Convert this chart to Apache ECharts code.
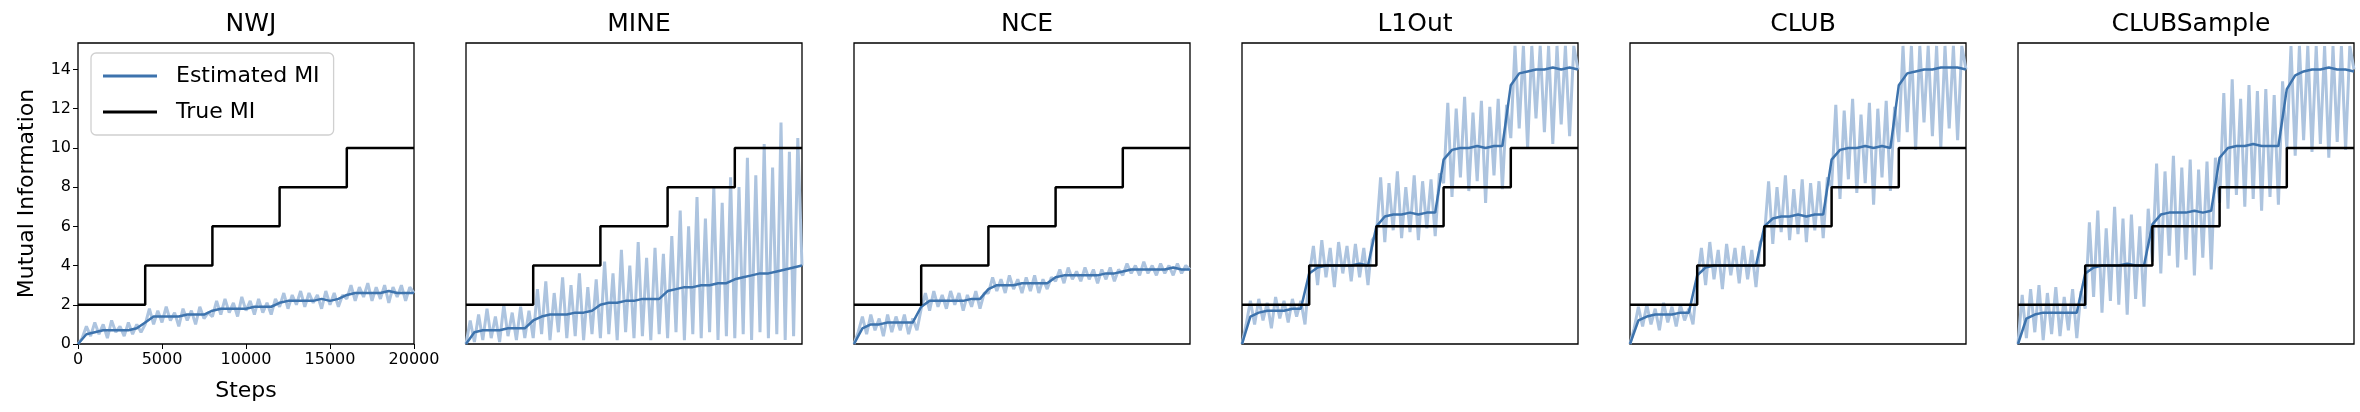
<!DOCTYPE html>
<html><head><meta charset="utf-8">
<script src="https://cdn.jsdelivr.net/npm/echarts@6/dist/echarts.min.js"></script>
<style>html,body{margin:0;padding:0;background:#fff}#c{width:2360px;height:412px}</style>
</head><body><div id="c"></div>
<script>
const titles = ['NWJ','MINE','NCE','L1Out','CLUB','CLUBSample'];
const trueX = [0,4000,8000,12000,16000,20000];
const trueY = [2,4,6,8,10,10];
const rawStep = 250, smoothStep = 500;
const rawNWJ = [0,0.3,0.9,0.4,1.1,0.5,1.0,0.3,1.2,0.6,0.9,0.4,1.1,0.5,1.0,0.6,
 1.0,1.8,1.0,1.7,1.1,1.9,1.2,1.6,0.9,1.8,1.2,1.7,1.0,1.9,1.3,1.6,
 1.4,2.2,1.5,2.3,1.6,2.1,1.4,2.4,1.7,2.2,1.5,2.3,1.6,2.1,1.5,2.3,
 1.9,2.6,1.8,2.5,2.0,2.7,1.9,2.6,2.1,2.5,1.8,2.7,2.0,2.6,1.9,2.5,
 2.3,3.0,2.2,2.9,2.4,3.1,2.2,2.9,2.3,3.0,2.1,2.9,2.4,3.0,2.2,2.9,2.6];
const smNWJ = [0,0.5,0.6,0.7,0.7,0.7,0.7,0.8, 1.1,1.4,1.4,1.4,1.4,1.5,1.5,1.5, 1.7,1.8,1.8,1.8,1.8,1.9,1.9,1.9, 2.1,2.2,2.2,2.2,2.2,2.3,2.2,2.3, 2.5,2.6,2.6,2.6,2.6,2.7,2.6,2.6,2.6];
const rawMINE = [0,1.2,0.1,1.5,0.2,1.8,0.3,1.4,0.1,2.0,0.4,1.6,0.2,1.9,0.3,1.7,
 0.3,2.8,0.5,3.2,0.2,2.6,0.6,3.4,0.3,3.0,0.4,3.6,0.2,2.9,0.5,3.3,
 0.3,4.2,0.5,3.6,0.2,4.8,0.6,4.0,0.3,5.2,0.4,4.4,0.2,4.9,0.5,4.6,
 0.3,5.5,0.6,6.8,0.2,6.0,0.5,7.5,0.3,6.4,0.6,8.0,0.2,7.2,0.4,8.5,
 0.3,8.0,0.5,9.5,0.2,8.6,0.6,10.2,0.3,9.0,0.5,11.3,0.2,9.8,0.4,10.5,4.0];
const smMINE = [0,0.6,0.7,0.7,0.7,0.8,0.8,0.8, 1.2,1.4,1.5,1.5,1.5,1.6,1.6,1.7, 2.0,2.1,2.1,2.2,2.2,2.3,2.3,2.3, 2.7,2.8,2.9,2.9,3.0,3.0,3.1,3.1, 3.3,3.4,3.5,3.6,3.6,3.7,3.8,3.9,4.0];
const rawNCE = [0,0.6,1.4,0.5,1.5,0.7,1.3,0.4,1.5,0.6,1.4,0.7,1.5,0.5,1.3,0.7,
 1.8,2.6,1.7,2.7,1.9,2.5,1.8,2.7,2.0,2.6,1.7,2.5,1.9,2.7,1.8,2.6,
 2.6,3.4,2.7,3.3,2.6,3.5,2.8,3.3,2.6,3.4,2.7,3.5,2.6,3.3,2.8,3.4,
 3.2,3.8,3.1,3.9,3.3,3.7,3.2,3.9,3.3,3.8,3.1,3.8,3.3,3.9,3.2,3.8,
 3.5,4.1,3.6,4.0,3.5,4.2,3.6,4.0,3.5,4.1,3.6,4.0,3.5,4.1,3.6,4.0,3.8];
const smNCE = [0,0.8,1.0,1.0,1.1,1.1,1.1,1.1, 1.9,2.2,2.2,2.2,2.2,2.2,2.3,2.3, 2.8,3.0,3.0,3.0,3.1,3.1,3.1,3.1, 3.4,3.5,3.5,3.5,3.5,3.5,3.6,3.6, 3.7,3.8,3.8,3.8,3.8,3.8,3.9,3.8,3.8];
const rawL1Out = [0,1.0,2.2,1.0,2.3,1.2,2.1,0.8,2.4,1.3,2.2,1.1,2.3,1.4,2.2,1.0,
 3.5,5.0,3.0,5.3,3.4,4.9,2.9,5.2,3.6,5.0,3.2,5.1,3.4,4.9,3.0,5.3,
 5.6,8.5,5.2,8.2,5.8,8.8,5.4,8.0,5.7,8.6,5.3,8.3,5.9,8.4,5.5,8.7,
 8.2,12.3,7.5,12.0,8.5,12.6,7.8,11.8,8.3,12.4,7.2,12.1,8.6,12.5,7.9,12.2,
 10.5,15.2,11.0,15.2,10.0,15.2,11.5,15.2,10.8,15.2,10.2,15.2,11.2,15.2,10.6,15.2,14];
const smL1Out = [0,1.4,1.6,1.7,1.7,1.7,1.8,1.8, 3.6,3.9,4.0,4.0,4.0,4.0,4.1,4.0, 6.0,6.5,6.6,6.6,6.7,6.6,6.7,6.7, 9.4,9.9,10.0,10.0,10.1,10.0,10.1,10.1, 13.2,13.8,13.9,14.0,14.0,14.1,14.0,14.1,14.0];
const rawCLUB = [0,0.8,1.9,0.9,2.0,1.0,1.8,0.7,2.1,1.1,1.9,0.9,2.0,1.2,1.8,1.0,
 3.2,4.9,3.0,5.2,3.3,4.8,2.8,5.1,3.5,4.9,3.1,5.0,3.3,4.8,2.9,5.2,
 5.5,8.3,5.1,8.0,5.7,8.6,5.3,7.9,5.6,8.4,5.2,8.2,5.8,8.3,5.4,8.5,
 8.0,12.2,7.4,11.9,8.4,12.5,7.7,11.7,8.2,12.3,7.1,12.0,8.5,12.4,7.8,12.1,
 10.3,15.2,10.8,15.2,9.9,15.2,11.3,15.2,10.6,15.2,10.0,15.2,11.0,15.2,10.4,15.2,14];
const smCLUB = [0,1.2,1.4,1.5,1.5,1.5,1.6,1.6, 3.5,3.9,4.0,4.0,4.0,4.0,4.0,4.0, 6.0,6.4,6.5,6.5,6.6,6.5,6.6,6.6, 9.4,9.9,10.0,10.0,10.1,10.0,10.1,10.0, 13.2,13.8,13.9,14.0,14.0,14.1,14.1,14.1,14.0];
const rawCLUBSample = [0,2.5,0.3,2.8,0.6,3.0,0.2,2.6,0.5,2.9,0.4,2.4,0.7,2.8,0.3,2.7,
 1.8,6.2,2.4,6.8,1.6,5.9,2.2,7.0,2.0,6.4,1.5,6.6,2.3,6.0,1.9,6.9,
 4.2,9.2,3.6,8.8,4.5,9.6,3.9,9.0,4.3,9.4,3.5,8.9,4.4,9.3,3.8,9.5,
 7.2,12.8,6.9,13.5,7.6,12.5,7.0,13.2,7.4,12.9,6.8,13.0,7.5,12.7,7.1,13.4,
 10.0,15.2,9.6,15.2,10.4,15.2,9.8,15.2,10.2,15.2,9.5,15.2,10.3,15.2,9.9,15.2,14];
const smCLUBSample = [0,1.3,1.5,1.6,1.6,1.6,1.6,1.6, 3.6,3.9,4.0,4.0,4.0,4.1,4.0,4.0, 6.1,6.6,6.7,6.7,6.7,6.8,6.7,6.8, 9.5,10.0,10.1,10.1,10.2,10.1,10.1,10.1, 13.0,13.7,13.9,14.0,14.0,14.1,14.0,14.0,13.9];

const raws = [rawNWJ,rawMINE,rawNCE,rawL1Out,rawCLUB,rawCLUBSample];
const sms = [smNWJ,smMINE,smNCE,smL1Out,smCLUB,smCLUBSample];
const FONT = 'DejaVu Sans';
const L0 = 78, PITCH = 388, W = 336, TOP = 43, H = 301;
const grids=[], xAxes=[], yAxes=[], series=[], titleArr=[];
for (let i=0;i<6;i++){
  const left = L0 + PITCH*i;
  grids.push({left:left, top:TOP, width:W, height:H, show:true, borderColor:'#000', borderWidth:1.3, backgroundColor:'#fff'});
  titleArr.push({text:titles[i], left:left+W/2, top:7, textAlign:'center', textStyle:{fontFamily:FONT, fontSize:25, fontWeight:'normal', color:'#000'}});
  const first = i===0;
  xAxes.push({type:'value', gridIndex:i, min:0, max:20000, interval:5000,
    axisLine:{show:false}, splitLine:{show:false},
    axisTick:{show:first, length:5, lineStyle:{color:'#000'}},
    axisLabel:{show:first, fontFamily:FONT, fontSize:16, color:'#000', margin:8, formatter:v=>String(v)},
    name: first?'Steps':'', nameLocation:'middle', nameGap:36, nameTextStyle:{fontFamily:FONT, fontSize:22, color:'#000'}});
  yAxes.push({type:'value', gridIndex:i, min:0, max:15.35, interval:2,
    axisLine:{show:false}, splitLine:{show:false},
    axisTick:{show:first, length:5, lineStyle:{color:'#000'}},
    axisLabel:{show:first, fontFamily:FONT, fontSize:16, color:'#000', showMaxLabel:false, margin:7},
    name: first?'Mutual Information':'', nameLocation:'middle', nameGap:40, nameTextStyle:{fontFamily:FONT, fontSize:22, color:'#000'}});
  series.push({type:'line', name:'raw'+i, xAxisIndex:i, yAxisIndex:i, showSymbol:false, silent:true,
    data: raws[i].map((v,k)=>[k*rawStep, v]), lineStyle:{color:'#adc4df', width:3}, z:1});
  series.push({type:'line', name: first?'Estimated MI':'sm'+i, xAxisIndex:i, yAxisIndex:i, showSymbol:false,
    data: sms[i].map((v,k)=>[k*smoothStep, v]), lineStyle:{color:'#3d73ad', width:2.5}, itemStyle:{color:'#3d73ad'}, z:2});
  series.push({type:'line', name: first?'True MI':'tr'+i, xAxisIndex:i, yAxisIndex:i, showSymbol:false, step:'end',
    data: trueX.map((x,k)=>[x, trueY[k]]), lineStyle:{color:'#000', width:2.5}, itemStyle:{color:'#000'}, z:3});
}
const chart = echarts.init(document.getElementById('c'));
chart.setOption({
  animation:false,
  title: titleArr,
  grid: grids, xAxis: xAxes, yAxis: yAxes, series: series,
  legend:{data:['Estimated MI','True MI'], left:91, top:53, orient:'vertical', itemGap:14,
    itemWidth:54, itemHeight:3, icon:'rect', padding:[12,14,12,12],
    backgroundColor:'#fff', borderColor:'#d0d0d0', borderWidth:1.3, borderRadius:5,
    textStyle:{fontFamily:FONT, fontSize:22, color:'#000', padding:[0,0,0,14]}}
});
</script></body></html>
